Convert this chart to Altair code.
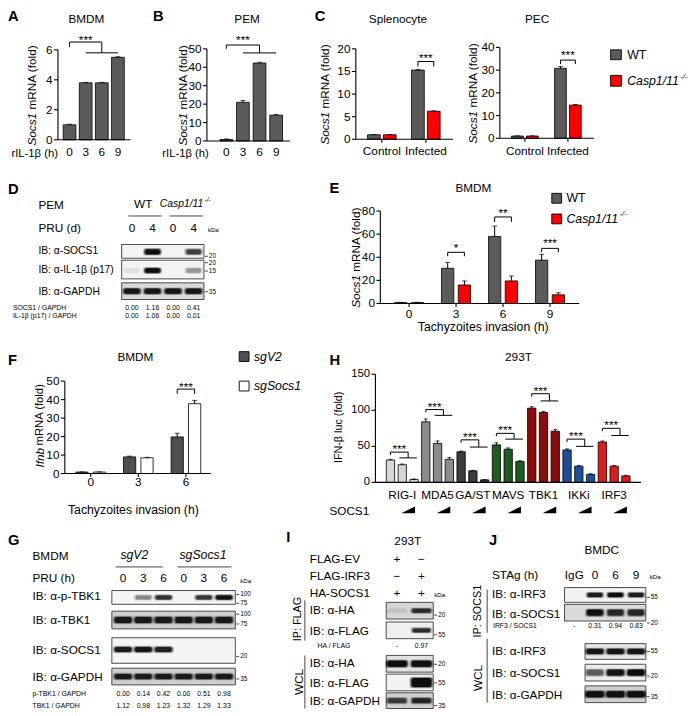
import altair as alt
import pandas as pd

W, H = 680, 700
OX, OY = 2.0, 3.0
SX, SY = 680 / 693, 700 / 711
FS = 0.983
FONT = "Liberation Sans"


def X(v):
    return round((v - OX) * SX, 2)


def Y(v):
    return round((v - OY) * SY, 2)


AW = {" ": 278, "(": 333, ")": 333, "-": 333, "/": 278, ".": 278, ":": 278,
      "A": 667, "B": 667, "C": 722, "D": 722, "E": 667, "F": 611, "G": 778, "H": 722, "I": 278,
      "K": 667, "L": 556, "M": 833, "N": 722, "O": 778, "P": 667, "R": 722, "S": 667, "T": 611,
      "U": 722, "V": 667, "W": 944, "a": 556, "b": 556, "c": 500, "d": 556, "e": 556, "f": 278,
      "g": 556, "h": 556, "i": 222, "l": 222, "m": 833, "n": 556, "o": 556, "p": 556, "r": 333,
      "s": 500, "t": 278, "u": 556, "y": 500, "z": 500}


def tw(s, size):
    return sum(AW.get(c, 556) for c in s) * size / 1000.0


GRAY = "#5b5b5b"
RED = "#ff0000"
DARK = "#4f4f4f"

# ------------------------------------------------------------------ data
a_cats = ["0", "3", "6", "9"]
a_vals = [1.0, 3.8, 3.8, 5.5]
a_errs = [0.03, 0.03, 0.03, 0.04]

b_cats = ["0", "3", "6", "9"]
b_vals = [0.8, 21.0, 42.3, 14.0]
b_errs = [0.3, 1.0, 0.4, 0.4]

c_groups = ["Control", "Infected"]
spl_wt = [1.0, 15.3]
spl_wt_err = [0.05, 0.15]
spl_ko = [1.0, 6.2]
spl_ko_err = [0.05, 0.1]
pec_wt = [1.0, 30.8]
pec_wt_err = [0.1, 0.8]
pec_ko = [1.0, 14.6]
pec_ko_err = [0.1, 0.3]

e_groups = ["0", "3", "6", "9"]
e_wt = [0.8, 30.5, 58.0, 37.5]
e_wt_err = [0.2, 5.0, 9.0, 5.0]
e_ko = [0.8, 16.0, 19.5, 7.5]
e_ko_err = [0.2, 3.5, 4.3, 1.8]

f_groups = ["0", "3", "6"]
f_v2 = [0.8, 9.0, 19.8]
f_v2_err = [0.1, 0.4, 2.0]
f_so = [0.8, 8.5, 37.8]
f_so_err = [0.1, 0.3, 1.8]

h_cats = ["RIG-I", "MDA5", "GA/ST", "MAVS", "TBK1", "IKKi", "IRF3"]
h_vals = [[31, 24.5, 4], [84, 54, 32], [42.5, 16, 3.5], [52, 46, 29],
          [103, 97, 71], [45, 22.5, 11], [56, 22.5, 9]]
h_errs = [[1, 1, 0.8], [4, 3.5, 2.5], [1, 0.7, 0.5], [3, 1.8, 1],
          [2, 1.5, 2.5], [1.5, 1, 1], [1.5, 1, 0.8]]
h_colors = ["#d6d6d6", "#8c8c8c", "#3d3d3d", "#1d5c1d", "#8a0c0c", "#1f4f99", "#e01b1b"]
h_bracket = [42, 101, 59, 68, 123, 60, 75]
h_line = [34, 93, 49, 60, 113, 50, 65]

# blot band intensities (relative)
d_socs1 = [0, 1.0, 0, 0.6]
d_il1b = [0.04, 1.0, 0, 0.25]
d_gapdh = [0.9, 0.9, 0.9, 0.9]
d_q1 = ["0.00", "1.16", "0.00", "0.41"]
d_q2 = ["0.00", "1.06", "0.00", "0.01"]

g_ptbk1 = [0, 0.3, 0.7, 0, 0.65, 0.95]
g_tbk1 = [0.85] * 6
g_socs1 = [0.85, 0.9, 0.8, 0, 0, 0]
g_gapdh = [0.85] * 6
g_q1 = ["0.00", "0.14", "0.42", "0.00", "0.51", "0.98"]
g_q2 = ["1.12", "0.98", "1.23", "1.32", "1.29", "1.33"]

i_ip_ha = [0.05, 0.7]
i_ip_flag = [0, 0.7]
i_wcl_ha = [1.0, 0.95]
i_wcl_flag = [0, 1.0]
i_gapdh = [0.6, 0.75]
i_q = ["-", "0.97"]

j_ip_irf3 = [0, 0.85, 1.0, 0.85]
j_ip_socs1 = [0, 0.95, 0.75, 0.75]
j_wcl_irf3 = [0.9, 0.9, 0.9]
j_wcl_socs1 = [0.45, 0.9, 1.0]
j_gapdh = [0.95, 0.95, 0.95]
j_q = ["-", "0.31", "0.94", "0.83"]


# ------------------------------------------------------------------ helpers
def scales(xd, xr, yd, yr):
    xs = alt.Scale(domain=xd, range=[X(xr[0]), X(xr[1])], nice=False, zero=False)
    ys = alt.Scale(domain=yd, range=[Y(yr[0]), Y(yr[1])], nice=False, zero=False)
    return xs, ys


def inv(py, yd, yr):
    return yd[0] + (yr[0] - py) / (yr[0] - yr[1]) * (yd[1] - yd[0])


def bar_panel(df, xd, xr, yd, yr, bw, ax_x, ax_end, ticks, tick_fs, xlabels, xlab_y,
              segs, stars, xticks=None, cap=5, extra=None):
    xs, ys = scales(xd, xr, yd, yr)
    df = df.copy()
    df["base"] = 0.0
    df["hi"] = df["val"] + df["err"]
    XE = lambda f: alt.X(f, scale=xs, axis=None)
    YE = lambda f: alt.Y(f, scale=ys, axis=None)
    L = []
    base = alt.Chart(df)
    L.append(base.mark_bar(orient="vertical", width=bw * SX, stroke="black", strokeWidth=0.8).encode(
        x=XE("pos:Q"), y=YE("val:Q"), y2="base:Q", fill=alt.Fill("fill:N", scale=None)))
    L.append(base.mark_rule(color="black", strokeWidth=1).encode(x=XE("pos:Q"), y=YE("val:Q"), y2="hi:Q"))
    L.append(base.mark_tick(orient="horizontal", size=cap * SX, thickness=1, color="black").encode(
        x=XE("pos:Q"), y=YE("hi:Q")))
    ax = pd.DataFrame({"a": [float(yd[0])], "b": [float(yd[1])]})
    L.append(alt.Chart(ax).mark_rule(color="black", strokeWidth=1.1).encode(
        x=alt.value(X(ax_x)), y=YE("a:Q"), y2="b:Q"))
    L.append(alt.Chart(ax).mark_rule(color="black", strokeWidth=1.1).encode(
        x=alt.value(X(ax_x)), x2=alt.value(X(ax_end)), y=YE("a:Q")))
    tk = pd.DataFrame({"v": ticks, "lab": [str(t) for t in ticks]})
    L.append(alt.Chart(tk).mark_rule(color="black", strokeWidth=1.1).encode(
        x=alt.value(X(ax_x - 4)), x2=alt.value(X(ax_x)), y=YE("v:Q")))
    L.append(alt.Chart(tk).mark_text(align="right", baseline="middle", font=FONT,
                                     fontSize=tick_fs * FS).encode(
        x=alt.value(X(ax_x - 5.5)), y=YE("v:Q"), text="lab:N"))
    xl = pd.DataFrame(xlabels, columns=["p", "lab"])
    L.append(alt.Chart(xl).mark_text(align="center", baseline="middle", font=FONT,
                                     fontSize=12 * FS).encode(
        x=XE("p:Q"), y=alt.value(Y(xlab_y)), text="lab:N"))
    if xticks is not None:
        xt = pd.DataFrame({"p": xticks})
        y0 = yr[0]
        L.append(alt.Chart(xt).mark_rule(color="black", strokeWidth=1.1).encode(
            x=XE("p:Q"), y=alt.value(Y(y0)), y2=alt.value(Y(y0 + 3.5))))
    sg = pd.DataFrame(segs, columns=["x1", "x2", "y1", "y2"])
    L.append(alt.Chart(sg).mark_rule(color="black", strokeWidth=1).encode(
        x=XE("x1:Q"), x2="x2:Q", y=YE("y1:Q"), y2="y2:Q"))
    st = pd.DataFrame([(p, inv(py, yd, yr), t) for p, py, t in stars], columns=["p", "v", "t"])
    L.append(alt.Chart(st).mark_text(align="center", baseline="middle", font=FONT,
                                     fontSize=12 * FS).encode(x=XE("p:Q"), y=YE("v:Q"), text="t:N"))
    if extra is not None:
        L.extend(extra(xs, ys))
    return alt.layer(*L)


def grouped_df(groups, series):
    rows = []
    for gi, g in enumerate(groups):
        for off, vals, errs, fill in series:
            rows.append({"cat": g, "pos": gi + off, "val": vals[gi], "err": errs[gi], "fill": fill})
    return pd.DataFrame(rows)


def bracket(p1, p2, top, leg):
    return [(p1, p2, top, top), (p1, p1, top, top - leg), (p2, p2, top, top - leg)]


def T(items, size, align="left", weight="normal", style="normal", angle=0, color="black"):
    df = pd.DataFrame(items, columns=["x", "y", "t"])
    df["x"] = df["x"].map(X)
    df["y"] = df["y"].map(Y)
    kw = dict(align=align, baseline="middle", font=FONT, fontSize=round(size * FS, 2),
              fontWeight=weight, fontStyle=style, color=color)
    if angle:
        kw["angle"] = angle
    return alt.Chart(df).mark_text(**kw).encode(
        x=alt.X("x:Q", scale=None, axis=None), y=alt.Y("y:Q", scale=None, axis=None), text="t:N")


# ------------------------------------------------------------------ panels
panels = []

# A
dfa = pd.DataFrame({"cat": a_cats, "pos": range(4), "val": a_vals, "err": a_errs, "fill": GRAY})
panels.append(bar_panel(
    dfa, [-0.5, 3.5], [51.5, 127.5], [0, 6], [134.5, 43], 13, 53, 127, [0, 2, 4, 6], 12,
    [(i, c) for i, c in enumerate(a_cats)], 147,
    [(0, 2, 6.52, 6.52), (0, 0, 6.52, 6.2), (2, 2, 6.52, 5.8), (1, 3, 5.8, 5.8)],
    [(1, 33, "***")]))

# B
dfb = pd.DataFrame({"cat": b_cats, "pos": range(4), "val": b_vals, "err": b_errs, "fill": GRAY})
panels.append(bar_panel(
    dfb, [-0.5, 3.5], [211.25, 289.25], [0, 50], [135.7, 42], 13, 205, 290,
    [0, 10, 20, 30, 40, 50], 12,
    [(i, c) for i, c in enumerate(b_cats)], 147,
    [(0, 2, 52.1, 52.1), (0, 0, 52.1, 50.0), (2, 2, 52.1, 47.8), (1, 3, 47.8, 47.8)],
    [(1, 33, "***")]))

# C splenocyte
o = 0.18
dfc = grouped_df(c_groups, [(-o, spl_wt, spl_wt_err, GRAY), (o, spl_ko, spl_ko_err, RED)])
panels.append(bar_panel(
    dfc, [-0.5, 1.5], [356, 456], [0, 20], [134, 42], 13, 357, 456, [0, 5, 10, 15, 20], 12,
    [(0, "Control"), (1, "Infected")], 146,
    bracket(1 - o, 1 + o, 17.2, 1.1), [(1, 51, "***")], xticks=[0, 1]))

# C PEC
o = 0.173
dfp = grouped_df(c_groups, [(-o, pec_wt, pec_wt_err, GRAY), (o, pec_ko, pec_ko_err, RED)])
panels.append(bar_panel(
    dfp, [-0.5, 1.5], [502.5, 600.5], [0, 40], [133, 40.5], 12, 504, 600, [0, 10, 20, 30, 40], 12,
    [(0, "Control"), (1, "Infected")], 146,
    bracket(1 - o, 1 + o, 34.4, 1.7), [(1, 48, "***")], xticks=[0, 1]))

# E
o = 0.178
dfe = grouped_df(e_groups, [(-o, e_wt, e_wt_err, GRAY), (o, e_ko, e_ko_err, RED)])
panels.append(bar_panel(
    dfe, [-0.5, 3.5], [382.25, 584.25], [0, 80], [301, 207], 12.5, 382, 585, [0, 20, 40, 60, 80], 12,
    [(i, c) for i, c in enumerate(e_groups)], 312,
    bracket(1 - o, 1 + o, 44.3, 3.4) + bracket(2 - o, 2 + o, 74.9, 4.3) + bracket(3 - o, 3 + o, 47.7, 3.4),
    [(1, 245, "*"), (2, 209, "**"), (3, 240, "***")], xticks=[0, 1, 2, 3]))

# F
o = 0.1827
dff = grouped_df(f_groups, [(-o, f_v2, f_v2_err, DARK), (o, f_so, f_so_err, "white")])
panels.append(bar_panel(
    dff, [-0.5, 2.5], [57, 213], [0, 50], [474, 380], 12.5, 60, 209, [0, 10, 20, 30, 40, 50], 12,
    [(i, c) for i, c in enumerate(f_groups)], 483,
    bracket(2 - o, 2 + o, 45.7, 2.6), [(2, 386, "***")], xticks=[0, 1, 2]))

# H
rows = []
for g, cat in enumerate(h_cats):
    for k in range(3):
        rows.append({"cat": cat, "pos": 3 * g + k, "val": h_vals[g][k], "err": h_errs[g][k],
                     "fill": h_colors[g]})
dfh = pd.DataFrame(rows)
hsegs, hstars = [], []
for g in range(7):
    Lb, Ll = h_bracket[g], h_line[g]
    p0, pm = 3 * g, 3 * g + 1.5
    hsegs += [(p0, pm, Lb, Lb), (p0, p0, Lb, Lb - 4), (pm, pm, Lb, Ll), (3 * g + 0.75, 3 * g + 2.25, Ll, Ll)]
    hstars.append(((p0 + pm) / 2, 483 - 0.7333 * Lb - 3, "***"))


def h_extra(xs, ys):
    tri = pd.DataFrame({"p": [3 * g + 1.5 for g in range(7)]})
    return [alt.Chart(tri).mark_point(shape="M -1 0.5 L 1 0.5 L 1 -0.5 Z", filled=True, color="black",
                                      opacity=1, size=(14 * SX) ** 2, strokeWidth=0).encode(
        x=alt.X("p:Q", scale=xs, axis=None), y=alt.value(Y(511)))]


panels.append(bar_panel(
    dfh, [-0.5, 20.5], [381.25, 643.75], [0, 150], [483, 373], 8.5, 377, 648, [0, 50, 100, 150], 11.5,
    [(3 * g + 1, c) for g, c in enumerate(h_cats)], 495.5, hsegs, hstars, cap=4, extra=h_extra))

# ------------------------------------------------------------------ blots
boxes, bands, lines, texts_kda = [], [], [], []


def blot(x0, x1, y0, y1, bg, lanes, ints, bw, bh, dy=0.0):
    boxes.append({"x": X(x0), "x2": X(x1), "y": Y(y0), "y2": Y(y1), "fill": bg})
    cy = (y0 + y1) / 2 + dy
    for lx, it in zip(lanes, ints):
        if it <= 0:
            continue
        for grow, f in ((2.2, 0.28), (1.1, 0.55), (0.0, 1.0)):
            bands.append({"x": X(lx - bw / 2 - grow), "x2": X(lx + bw / 2 + grow),
                          "y": Y(cy - bh / 2 - grow * 0.6), "y2": Y(cy + bh / 2 + grow * 0.6),
                          "op": min(1.0, it * f)})


def kda(xr, y, t):
    lines.append((xr + 1, y, xr + 4, y))
    texts_kda.append((xr + 5, y, t))


# D
lanes_d = [128.5, 149.5, 170.5, 191.5]
blot(118, 202, 241, 255, "#f3f3f3", lanes_d, d_socs1, 15, 5, 0.5)
blot(118, 202, 257, 276, "#f3f3f3", lanes_d, d_il1b, 15, 4.5, 1.0)
blot(118, 202, 280, 297, "#d9d9d9", lanes_d, d_gapdh, 16, 5)
kda(202, 253, "20")
kda(202, 259.5, "20")
kda(202, 268, "15")
kda(202, 289, "35")
lines += [(125, 212, 159, 212), (167, 212, 201, 212)]

# G
lanes_g = [119.5 + 20.6 * k for k in range(6)]
blot(108, 234, 593, 607, "#f5f5f5", lanes_g, g_ptbk1, 16, 4)
blot(108, 234, 614, 632, "#cfcfcf", lanes_g, g_tbk1, 17, 6)
blot(108, 234, 641, 667, "#f5f5f5", lanes_g, g_socs1, 17, 5, -1)
blot(108, 234, 672, 689, "#d0d0d0", lanes_g, g_gapdh, 17, 5)
kda(234, 597, "100")
kda(234, 606, "75")
kda(234, 617, "100")
kda(234, 627, "75")
kda(234, 660, "20")
kda(234, 683, "35")
lines += [(112, 569, 160, 569), (175, 569, 230, 569)]

# I
lanes_i = [399, 424]
blot(388, 436, 605, 622, "#d6d6d6", lanes_i, i_ip_ha, 19, 4)
blot(388, 436, 625, 642, "#efefef", lanes_i, i_ip_flag, 18, 4)
blot(388, 436, 659, 676, "#e2e2e2", lanes_i, i_wcl_ha, 20, 6)
blot(388, 436, 678, 695, "#f2f2f2", lanes_i, i_wcl_flag, 20, 9)
blot(388, 436, 697, 713, "#cfcfcf", lanes_i, i_gapdh, 19, 5)
kda(436, 618, "20")
kda(436, 638, "55")
kda(436, 668, "20")
kda(436, 687, "55")
kda(436, 710, "35")
lines += [(305, 603, 305, 644), (305, 659, 305, 713)]

# J
lanes_j = [580, 601, 622, 643]
blot(570, 653, 590, 605, "#f2f2f2", lanes_j, j_ip_irf3, 15, 4)
blot(570, 653, 607, 624, "#dadada", lanes_j, j_ip_socs1, 16, 6)
blot(591, 653, 647, 663, "#e6e6e6", lanes_j[1:], j_wcl_irf3, 17, 5)
blot(591, 653, 668, 685, "#ececec", lanes_j[1:], j_wcl_socs1, 17, 6)
blot(591, 653, 690, 707, "#cfcfcf", lanes_j[1:], j_gapdh, 18, 6)
kda(653, 600, "55")
kda(653, 626, "20")
kda(653, 655, "55")
kda(653, 680, "20")
kda(653, 701, "35")
lines += [(491, 592, 491, 636), (491, 642, 491, 707)]

# legend squares
legend_sq = [(617, 628, 43, 53, GRAY), (617, 628, 69, 80, RED),
             (557, 567, 189, 199, GRAY), (557, 567, 210, 220, RED),
             (238, 248, 350, 360, DARK), (238, 248, 380, 390, "white")]

box_df = pd.DataFrame(boxes)
band_df = pd.DataFrame(bands)
line_df = pd.DataFrame([{"x": X(a), "y": Y(b), "x2": X(c), "y2": Y(d)} for a, b, c, d in lines])
sq_df = pd.DataFrame([{"x": X(a), "x2": X(b), "y": Y(c), "y2": Y(d), "fill": f} for a, b, c, d, f in legend_sq])

SN = lambda f: alt.X(f, scale=None, axis=None)
SNY = lambda f: alt.Y(f, scale=None, axis=None)

deco = [
    alt.Chart(box_df).mark_rect(stroke="#3a3a3a", strokeWidth=0.9).encode(
        x=SN("x:Q"), x2="x2:Q", y=SNY("y:Q"), y2="y2:Q", fill=alt.Fill("fill:N", scale=None)),
    alt.Chart(band_df).mark_rect(fill="#0d0d0d", cornerRadius=2.5).encode(
        x=SN("x:Q"), x2="x2:Q", y=SNY("y:Q"), y2="y2:Q", opacity=alt.Opacity("op:Q", scale=None)),
    alt.Chart(line_df).mark_rule(color="#333333", strokeWidth=0.9).encode(
        x=SN("x:Q"), x2="x2:Q", y=SNY("y:Q"), y2="y2:Q"),
    alt.Chart(sq_df).mark_rect(stroke="black", strokeWidth=0.9).encode(
        x=SN("x:Q"), x2="x2:Q", y=SNY("y:Q"), y2="y2:Q", fill=alt.Fill("fill:N", scale=None)),
]

# ------------------------------------------------------------------ texts
letters = [("A", 2, 9.5), ("B", 150, 9.5), ("C", 315, 9.5), ("D", 2, 186), ("E", 330, 185),
           ("F", 2, 360), ("G", 2, 543), ("H", 330, 360), ("I", 286, 540), ("J", 493, 543)]
titles = [("BMDM", 82, 12), ("PEM", 246, 12), ("Splenocyte", 400, 12), ("PEC", 542, 12),
          ("BMDM", 477, 184), ("BMDM", 132, 355), ("293T", 523, 355), ("293T", 410, 543),
          ("BMDC", 608, 552)]


def ytitle(italic, rest, x, cy, size):
    w1 = tw(italic, size)
    w2 = tw(" " + rest, size)
    start = cy + (w1 + w2) / 2
    return [(x, start, italic)], [(x, start - w1 - tw(" ", size), rest)]


yt_it, yt_nr = [], []
for x, cy in [(26, 89), (181, 89), (326, 88), (477, 87), (357, 254)]:
    a, b = ytitle("Socs1", "mRNA (fold)", x, cy, 12)
    yt_it += a
    yt_nr += b
fa, fb = ytitle("Ifnb", "mRNA (fold)", 35, 425, 11.5)

center12 = [(t, x, y) for t, x, y in titles]
center12 += [("WT", 140, 200)]
center12 += [(l, lx, 224) for l, lx in zip(["0", "4", "0", "4"], lanes_d)]
center12 += [(l, lx, 580) for l, lx in zip(["0", "3", "6", "0", "3", "6"], lanes_g)]
center12 += [(l, lx, 577) for l, lx in zip(["IgG", "0", "6", "9"], lanes_j)]
center12 += [(s, lx, y) for y, ss in [(561, ["+", "\u2212"]), (578, ["\u2212", "+"]), (596, ["+", "+"])]
             for s, lx in zip(ss, lanes_i)]

left12 = [("PEM", 33, 201), ("PRU (d)", 33, 224), ("BMDM", 27, 558), ("PRU (h)", 27, 580),
          ("FLAG-EV", 310, 561), ("FLAG-IRF3", 310, 578), ("HA-SOCS1", 310, 596),
          ("IB: \u03b1-p-TBK1", 27, 599), ("IB: \u03b1-TBK1", 27, 623), ("IB: \u03b1-SOCS1", 27, 654),
          ("IB: \u03b1-GAPDH", 27, 681),
          ("IB: \u03b1-HA", 310, 613), ("IB: \u03b1-FLAG", 310, 634), ("IB: \u03b1-HA", 310, 667),
          ("IB: \u03b1-FLAG", 310, 687), ("IB: \u03b1-GAPDH", 310, 705),
          ("STAg (h)", 496, 577), ("IB: \u03b1-IRF3", 496, 597), ("IB: \u03b1-SOCS1", 496, 617),
          ("IB: \u03b1-IRF3", 496, 655), ("IB: \u03b1-SOCS1", 496, 677), ("IB: \u03b1-GAPDH", 496, 699),
          ("SOCS1", 330, 512)]
left_d = [("IB: \u03b1-SOCS1", 33, 248), ("IB: \u03b1-IL-1\u03b2 (p17)", 33, 267), ("IB: \u03b1-GAPDH", 33, 289)]

small_left = [("SOCS1 / GAPDH", 7, 306), ("IL-1\u03b2 (p17)  / GAPDH", 7, 314),
              ("p-TBK1 / GAPDH", 27, 698), ("TBK1  / GAPDH", 27, 710),
              ("HA / FLAG", 318, 649), ("IRF3 / SOCS1", 497, 629)]
small_center = [(v, lx, 306) for v, lx in zip(d_q1, lanes_d)] + [(v, lx, 314) for v, lx in zip(d_q2, lanes_d)]
small_center += [(v, lx, 698) for v, lx in zip(g_q1, lanes_g)] + [(v, lx, 710) for v, lx in zip(g_q2, lanes_g)]
small_center += [(v, lx, 649) for v, lx in zip(i_q, lanes_i)] + [(v, lx, 629) for v, lx in zip(j_q, lanes_j)]
kda_hdr = [("kDa", 206, 226), ("kDa", 239, 583), ("kDa", 437, 598), ("kDa", 657, 579)]

sw = lambda L: [(x, y, t) for t, x, y in L]

text_layers = [
    T(sw(letters), 15, weight="bold"),
    T(sw(center12), 12, align="center"),
    T(sw(left12), 12),
    T(sw(left_d), 10.5),
    T(sw(small_left), 7),
    T(sw(small_center), 7, align="center"),
    T(sw(kda_hdr), 6.2),
    T(texts_kda, 6.5),
    T([(y[0], y[1], y[2]) for y in yt_it] + fa, 12, style="italic", angle=270),
    T(yt_nr, 12, angle=270),
    T(fb, 11.5, angle=270),
    T([(340, 427, "IFN-\u03b2 luc (fold)")], 11, align="center", angle=270),
    T([(53, 148.5, "rIL-1\u03b2 (h)"), (207, 148.5, "rIL-1\u03b2 (h)")], 11.5, align="right"),
    T([(487, 325, "Tachyzoites invasion (h)"), (130, 511, "Tachyzoites invasion (h)")], 12.5, align="center"),
    T([(634, 48, "WT"), (572, 194, "WT")], 12.5),
    T([(634, 75, "Casp1/11"), (572, 215, "Casp1/11"), (253, 355, "sgV2"), (253, 385, "sgSocs1")],
      12.5, style="italic"),
    T([(634 + tw("Casp1/11", 12.5) + 0.5, 70.5, "-/-"), (572 + tw("Casp1/11", 12.5) + 0.5, 210.5, "-/-")],
      8, style="italic"),
    T([(157, 200, "Casp1/11")], 10.5, style="italic"),
    T([(157 + tw("Casp1/11", 10.5) + 0.5, 196, "-/-")], 7, style="italic"),
    T([(131, 557, "sgV2"), (201, 557, "sgSocs1")], 12.5, align="center", style="italic"),
    T([(298, 622, "IP: FLAG"), (482, 614, "IP: SOCS1")], 11, align="center", angle=270),
    T([(299, 686, "WCL"), (482, 682, "WCL")], 12, align="center", angle=270),
]

chart = alt.layer(*(deco + panels + text_layers)).resolve_scale(
    x="independent", y="independent"
).properties(width=W, height=H, padding=0).configure_view(stroke=None)

chart.save("out.html", embed_options={"renderer": "svg", "actions": False})
